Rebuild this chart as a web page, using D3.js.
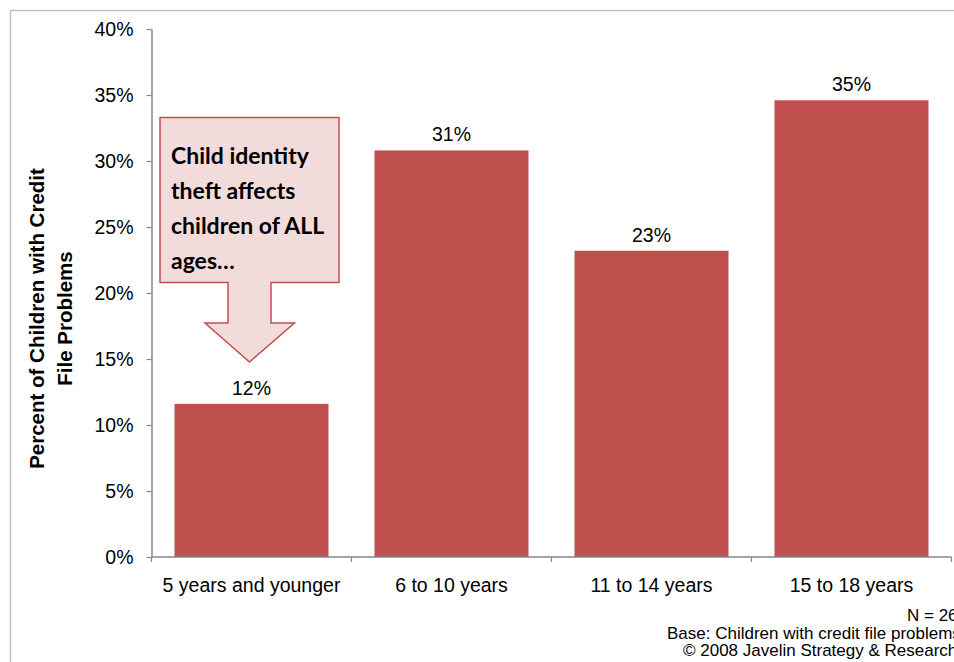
<!DOCTYPE html>
<html>
<head>
<meta charset="utf-8">
<script src="https://cdn.jsdelivr.net/npm/d3@7/dist/d3.min.js"></script>
<style>
  html, body { margin: 0; padding: 0; background: #fff; }
  svg { display: block; }
</style>
</head>
<body>
<svg id="chart" width="954" height="662"></svg>
<script>
// ---- data ----
const categories = ["5 years and younger", "6 to 10 years", "11 to 14 years", "15 to 18 years"];
const values = [0.116, 0.308, 0.232, 0.346];
const valueLabels = ["12%", "31%", "23%", "35%"];
const yTickValues = [0, 0.05, 0.10, 0.15, 0.20, 0.25, 0.30, 0.35, 0.40];
const yTitleLines = ["Percent of Children with Credit", "File Problems"];
const calloutLines = ["Child identity", "theft affects", "children of ALL", "ages…"];
const footerLines = ["N = 26", "Base: Children with credit file problems", "© 2008 Javelin Strategy & Research"];

// ---- layout ----
const svg = d3.select("#chart");
const plotLeft = 151.5, plotRight = 951.5, plotTop = 29, plotBottom = 557;
const barColor = "#C0504D";
const axisColor = "#868686";
const font = "'Liberation Sans', Arial, sans-serif";

// outer frame
svg.append("rect")
  .attr("x", 10.5).attr("y", 10.5)
  .attr("width", 1000).attr("height", 1000)
  .attr("fill", "none").attr("stroke", "#c3c3c3").attr("stroke-width", 1.5);

const x = d3.scaleBand()
  .domain(categories)
  .range([plotLeft, plotRight])
  .paddingInner(0.23)
  .paddingOuter(0.115);

const y = d3.scaleLinear().domain([0, 0.4]).range([plotBottom, plotTop]);

// bars
svg.append("g").selectAll("rect")
  .data(categories)
  .join("rect")
  .attr("x", (d) => x(d))
  .attr("y", (d, i) => y(values[i]))
  .attr("width", x.bandwidth())
  .attr("height", (d, i) => y(0) - y(values[i]))
  .attr("fill", barColor);

// value labels
svg.append("g").selectAll("text")
  .data(categories)
  .join("text")
  .attr("x", (d) => x(d) + x.bandwidth() / 2)
  .attr("y", (d, i) => y(values[i]) - 9)
  .attr("text-anchor", "middle")
  .attr("font-family", font)
  .attr("font-size", 19.5)
  .attr("fill", "#000")
  .text((d, i) => valueLabels[i]);

// y axis
const yAxis = svg.append("g")
  .attr("transform", `translate(${plotLeft},0)`)
  .call(d3.axisLeft(y).tickValues(yTickValues).tickFormat(d3.format(".0%"))
    .tickSize(5).tickSizeOuter(0).tickPadding(13));
yAxis.select(".domain").attr("stroke", axisColor).attr("stroke-width", 1.5);
yAxis.selectAll(".tick line").attr("stroke", axisColor).attr("stroke-width", 1.2);
yAxis.selectAll(".tick text")
  .attr("font-family", font).attr("font-size", 19.5).attr("fill", "#000");

// x axis
const step = x.step();
const gap = step * x.paddingInner() / 2;
const boundaries = categories.map((d) => x(d) - gap).concat([x(categories[categories.length - 1]) + x.bandwidth() + gap]);
const xAxis = svg.append("g");
xAxis.append("line")
  .attr("x1", plotLeft).attr("x2", boundaries[boundaries.length - 1])
  .attr("y1", y(0)).attr("y2", y(0))
  .attr("stroke", axisColor).attr("stroke-width", 1.5);
xAxis.selectAll("line.tick")
  .data(boundaries)
  .join("line")
  .attr("class", "tick")
  .attr("x1", (d) => d).attr("x2", (d) => d)
  .attr("y1", y(0)).attr("y2", y(0) + 5)
  .attr("stroke", axisColor).attr("stroke-width", 1.2);
xAxis.selectAll("text")
  .data(categories)
  .join("text")
  .attr("x", (d) => x(d) + x.bandwidth() / 2)
  .attr("y", y(0) + 35)
  .attr("text-anchor", "middle")
  .attr("font-family", font)
  .attr("font-size", 19.5)
  .attr("fill", "#000")
  .text((d) => d);

// y title
const yTitle = svg.append("text")
  .attr("transform", "translate(44,318.5) rotate(-90)")
  .attr("text-anchor", "middle")
  .attr("font-family", font)
  .attr("font-size", 20.5)
  .attr("font-weight", "bold")
  .attr("fill", "#000");
yTitle.selectAll("tspan")
  .data(yTitleLines)
  .join("tspan")
  .attr("x", 0)
  .attr("y", (d, i) => i * 28)
  .text((d) => d);

// callout arrow annotation
const callout = svg.append("g");
callout.append("path")
  .attr("d", "M160,117.5 H339 V282.5 H271 V323 H294.5 L249.5,362 L205,323 H228 V282.5 H160 Z")
  .attr("fill", "#F2DCDB")
  .attr("stroke", "#C0504D")
  .attr("stroke-width", 1.5);
callout.selectAll("text")
  .data(calloutLines)
  .join("text")
  .attr("x", 171)
  .attr("y", (d, i) => 164 + i * 35)
  .attr("font-family", "Lato, 'Open Sans', sans-serif")
  .attr("font-weight", "bold")
  .attr("font-size", 23)
  .attr("fill", "#000")
  .text((d) => d);

// footer
const footerX = [907, 667, 683];
const footerY = [621, 639, 656];
svg.append("g").selectAll("text")
  .data(footerLines)
  .join("text")
  .attr("x", (d, i) => footerX[i])
  .attr("y", (d, i) => footerY[i])
  .attr("font-family", font)
  .attr("font-size", 17)
  .attr("fill", "#000")
  .text((d) => d);
</script>
</body>
</html>
